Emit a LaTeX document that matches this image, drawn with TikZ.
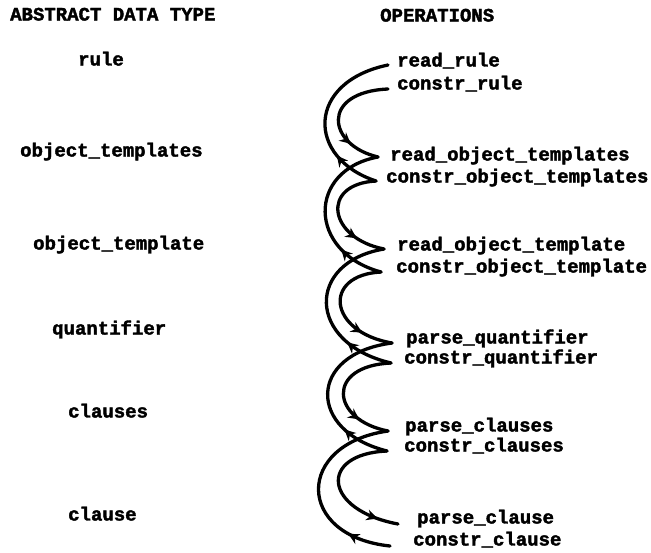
\documentclass[tikz,border=0pt]{standalone}
\usepackage{fontspec}
\newfontfamily\opfont[BoldFeatures={FakeBold=2}]{Liberation Mono}
\usetikzlibrary{arrows.meta,decorations.markings}
\begin{document}
\begin{tikzpicture}[x=1pt,y=-1pt,
  txt/.style={anchor=west, inner sep=0pt, text height=10pt, text depth=3pt,
    font=\opfont\bfseries\fontsize{19}{19}\selectfont},
  link/.style={line width=3.3pt, line cap=round},
  callarrow/.style={link, postaction={decorate}, decoration={markings,
    mark=at position #1 with {\arrow{Stealth[length=11pt,width=11pt]}}}},
  callarrow/.default=0.75,
  retarrow/.style={link, postaction={decorate}, decoration={markings,
    mark=at position #1 with {\arrow{Stealth[length=11pt,width=11pt]}}}},
  retarrow/.default=0.27
]
\path[use as bounding box, fill=white] (0,0) rectangle (651,552);

% headers
\node[txt] (hadt) at (10,17) {ABSTRACT DATA TYPE};
\node[txt] (hop) at (380,18) {OPERATIONS};

% abstract data types
\node[txt] (t1) at (78,62) {rule};
\node[txt] (t2) at (20,153) {object\_templates};
\node[txt] (t3) at (33,246) {object\_template};
\node[txt] (t4) at (52,331) {quantifier};
\node[txt] (t5) at (68,414) {clauses};
\node[txt] (t6) at (68,517) {clause};

% operations
\node[txt] (r1) at (397,63) {read\_rule};
\node[txt] (c1) at (397,86) {constr\_rule};
\node[txt] (r2) at (390,157) {read\_object\_templates};
\node[txt] (c2) at (386,179) {constr\_object\_templates};
\node[txt] (r3) at (397,247) {read\_object\_template};
\node[txt] (c3) at (396,269) {constr\_object\_template};
\node[txt] (r4) at (406,340) {parse\_quantifier};
\node[txt] (c4) at (404,360) {constr\_quantifier};
\node[txt] (r5) at (405,428) {parse\_clauses};
\node[txt] (c5) at (404,448) {constr\_clauses};
\node[txt] (r6) at (417,520) {parse\_clause};
\node[txt] (c6) at (413,542) {constr\_clause};

% connector ends
\coordinate (R1) at (388,65);  \coordinate (C1) at (388,89);
\coordinate (R2) at (378,157); \coordinate (C2) at (376,181);
\coordinate (R3) at (384,249); \coordinate (C3) at (381,272);
\coordinate (R4) at (392,343); \coordinate (C4) at (391,363);
\coordinate (R5) at (388,431); \coordinate (C5) at (387,451);
\coordinate (R6) at (398,524); \coordinate (C6) at (390,546);

% pair 1
\draw[retarrow]  (C2) .. controls (306,158) and (306,82) .. (R1);
\draw[callarrow] (C1) .. controls (320,92) and (327,145) .. (R2);
% pair 2
\draw[retarrow]  (C3) .. controls (307,252) and (307,170) .. (R2);
\draw[callarrow] (C2) .. controls (320,184) and (328,238) .. (R3);
% pair 3
\draw[retarrow]  (C4) .. controls (306,343) and (306,262) .. (R3);
\draw[callarrow] (C3) .. controls (322,275) and (328,332) .. (R4);
% pair 4
\draw[retarrow]  (C5) .. controls (307,431) and (307,354) .. (R4);
\draw[callarrow] (C4) .. controls (325,366) and (331,420) .. (R5);
% pair 5
\draw[retarrow=0.22]  (C6) .. controls (295,536) and (295,444) .. (R5);
\draw[callarrow=0.85] (C5) .. controls (318,454) and (323,510) .. (R6);
\end{tikzpicture}
\end{document}
